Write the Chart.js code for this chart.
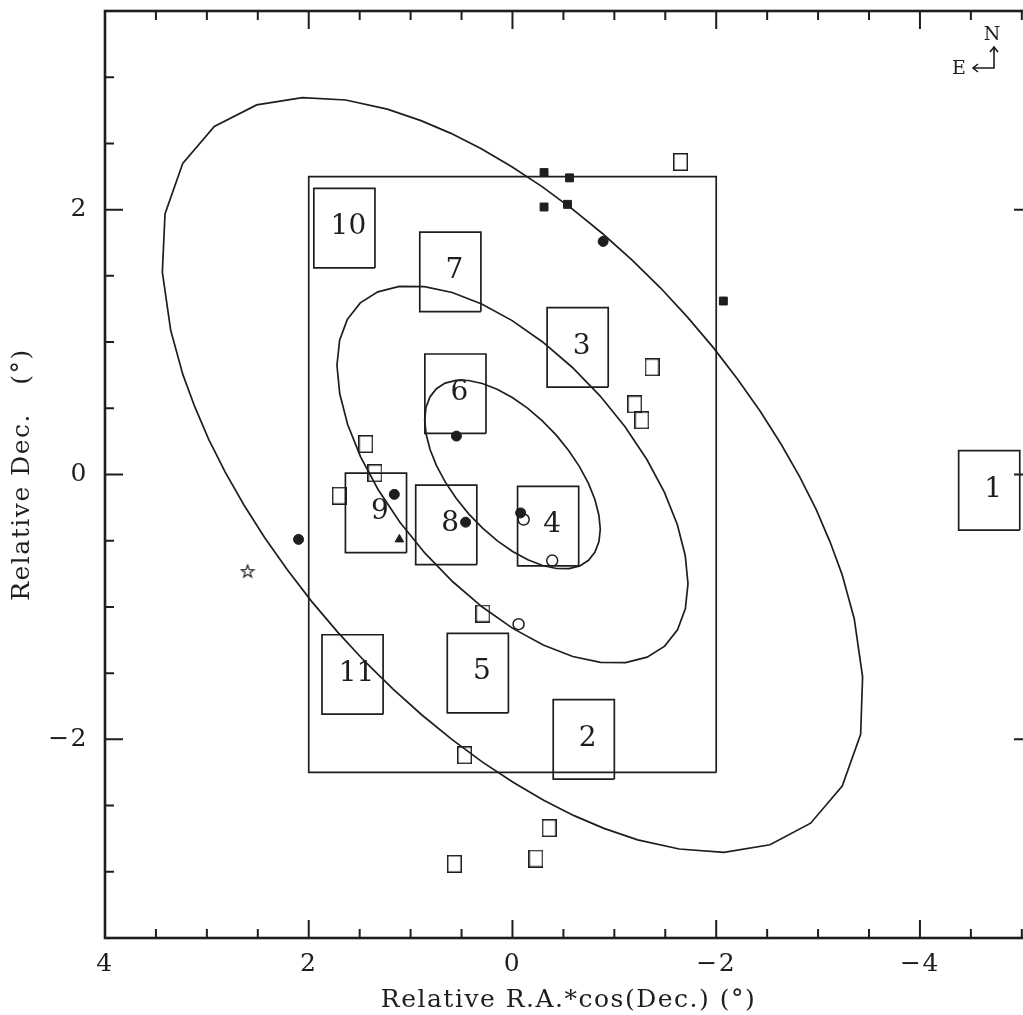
<!DOCTYPE html>
<html>
<head>
<meta charset="utf-8">
<title>Field layout</title>
<script src="https://cdn.jsdelivr.net/npm/chart.js@4.4.1/dist/chart.umd.min.js"></script>
<style>
  html, body { margin: 0; padding: 0; background: #fff; overflow: hidden; }
  #wrap { width: 1023px; height: 1015px; overflow: hidden; }
  canvas { display: block; }
</style>
</head>
<body>
<div id="wrap"><canvas id="fieldChart" width="1034" height="1015"></canvas></div>
<script>
// ---- data (degrees) ----
const xTickLabels = [4, 2, 0, -2, -4];
const yTickLabels = [-2, 0, 2];
const xMinorTicks = [3.5, 3, 2.5, 1.5, 1, 0.5, -0.5, -1, -1.5, -2.5, -3, -3.5, -4.5, -5];
const yMinorTicks = [-3, -2.5, -1.5, -1, -0.5, 0.5, 1, 1.5, 2.5, 3];

// survey field (big rectangle) corners
const fieldX = [-2, 2];
const fieldY = [-2.25, 2.25];

// numbered pointings
const boxLabels = ["1", "2", "3", "4", "5", "6", "7", "8", "9", "10", "11"];
const boxX = [-4.68, -0.70, -0.64, -0.35, 0.34, 0.56, 0.61, 0.65, 1.34, 1.65, 1.57];
const boxY = [-0.12, -2.00, 0.96, -0.39, -1.50, 0.61, 1.53, -0.38, -0.29, 1.86, -1.51];
const BOX_HALF = 0.3;

// markers
const filledSquareX = [-0.31, -0.56, -0.31, -0.54, -2.07];
const filledSquareY = [2.28, 2.24, 2.02, 2.04, 1.31];
const filledCircleX = [-0.89, 0.55, 1.16, 0.46, -0.08, 2.10];
const filledCircleY = [1.76, 0.29, -0.15, -0.36, -0.29, -0.49];
const openCircleX = [-0.11, -0.39, -0.06];
const openCircleY = [-0.34, -0.65, -1.13];
const openSquareX = [-1.65, -1.37, -1.20, -1.27, 1.44, 1.35, 1.70, 0.29, 0.47, -0.36, -0.23, 0.57];
const openSquareY = [2.36, 0.81, 0.53, 0.41, 0.23, 0.01, -0.16, -1.05, -2.12, -2.67, -2.90, -2.94];
const triangleX = [1.11];
const triangleY = [-0.49];
const starX = [2.60];
const starY = [-0.73];

// contours (vertices)
const outerContour = [
  [3.355, 1.089], [3.437, 1.528], [3.411, 1.968], [3.237, 2.349], [2.927, 2.628],
  [2.511, 2.791], [2.063, 2.846], [1.637, 2.828], [1.229, 2.759], [0.898, 2.672],
  [0.604, 2.576], [0.306, 2.460], [0.006, 2.324], [-0.294, 2.172], [-0.592, 2.002],
  [-0.886, 1.818], [-1.172, 1.620], [-1.452, 1.410], [-1.718, 1.188], [-1.972, 0.958],
  [-2.210, 0.720], [-2.432, 0.478], [-2.636, 0.230], [-2.820, -0.018], [-2.982, -0.266],
  [-3.120, -0.514], [-3.236, -0.756], [-3.355, -1.089], [-3.437, -1.528], [-3.418, -1.962],
  [-3.237, -2.352], [-2.927, -2.633], [-2.528, -2.796], [-2.076, -2.853], [-1.637, -2.828],
  [-1.229, -2.759], [-0.898, -2.672], [-0.604, -2.576], [-0.306, -2.460], [-0.006, -2.324],
  [0.294, -2.172], [0.592, -2.002], [0.886, -1.818], [1.172, -1.620], [1.452, -1.410],
  [1.718, -1.188], [1.972, -0.958], [2.210, -0.720], [2.432, -0.478], [2.636, -0.230],
  [2.820, 0.018], [2.982, 0.266], [3.120, 0.514], [3.236, 0.756], [3.355, 1.089]
];
const middleContour = [
  [1.620, 1.173], [1.494, 1.296], [1.322, 1.379], [1.110, 1.421], [0.864, 1.419],
  [0.592, 1.374], [0.302, 1.288], [0.003, 1.162], [-0.296, 1.001], [-0.586, 0.810],
  [-0.859, 0.594], [-1.105, 0.360], [-1.318, 0.115], [-1.491, -0.133], [-1.618, -0.378],
  [-1.696, -0.611], [-1.723, -0.825], [-1.697, -1.014], [-1.620, -1.173], [-1.494, -1.296],
  [-1.322, -1.379], [-1.110, -1.421], [-0.864, -1.419], [-0.592, -1.374], [-0.302, -1.288],
  [-0.003, -1.162], [0.296, -1.001], [0.586, -0.810], [0.859, -0.594], [1.105, -0.360],
  [1.318, -0.115], [1.491, 0.133], [1.618, 0.378], [1.696, 0.611], [1.723, 0.825],
  [1.697, 1.014], [1.620, 1.173]
];
const innerContour = [
  [0.810, 0.586], [0.747, 0.648], [0.661, 0.690], [0.555, 0.711], [0.432, 0.710],
  [0.296, 0.687], [0.151, 0.644], [0.002, 0.581], [-0.148, 0.501], [-0.293, 0.405],
  [-0.430, 0.297], [-0.553, 0.180], [-0.659, 0.058], [-0.746, -0.067], [-0.809, -0.189],
  [-0.848, -0.306], [-0.862, -0.413], [-0.849, -0.507], [-0.810, -0.586], [-0.747, -0.648],
  [-0.661, -0.690], [-0.555, -0.711], [-0.432, -0.710], [-0.296, -0.687], [-0.151, -0.644],
  [-0.002, -0.581], [0.148, -0.501], [0.293, -0.405], [0.430, -0.297], [0.553, -0.180],
  [0.659, -0.058], [0.746, 0.067], [0.809, 0.189], [0.848, 0.306], [0.862, 0.413],
  [0.849, 0.507], [0.810, 0.586]
];

// ---- styling ----
const INK = "#1e1e1e";
const SERIF = "'DejaVu Serif', 'Liberation Serif', serif";

const pairs = (xs, ys) => xs.map((v, i) => ({ x: v, y: ys[i] }));
const outline = pts => pts.map(p => ({ x: p[0], y: p[1] }));
function rectOutline(x0, x1, y0, y1){
  return [{x: x0, y: y0}, {x: x1, y: y0}, {x: x1, y: y1}, {x: x0, y: y1}, {x: x0, y: y0}];
}
const fmt = v => (v < 0 ? "\u2212" : "") + Math.abs(v);

function openBoxGlyph(w, h){
  const c = document.createElement("canvas");
  c.width = w; c.height = h;
  const g = c.getContext("2d");
  g.strokeStyle = INK;
  g.lineWidth = 1.5;
  g.strokeRect(0.75, 0.75, w - 1.5, h - 1.5);
  return c;
}
function starGlyph(){
  const c = document.createElement("canvas");
  c.width = 16; c.height = 16;
  const g = c.getContext("2d");
  g.translate(8, 8.5);
  g.beginPath();
  for(let i = 0; i < 10; i++){
    const r = i % 2 ? 2.7 : 6.6;
    const a = -Math.PI / 2 + i * Math.PI / 5;
    g.lineTo(r * Math.cos(a), r * Math.sin(a));
  }
  g.closePath();
  g.strokeStyle = INK;
  g.lineWidth = 1.2;
  g.stroke();
  return c;
}

function lineSet(points){
  return {
    data: points, showLine: true, pointRadius: 0, fill: false, tension: 0,
    borderColor: INK, borderWidth: 1.7, order: 2
  };
}

const datasets = [
  { data: pairs(filledSquareX, filledSquareY), pointStyle: "rect", pointRadius: 5.6,
    backgroundColor: INK, borderColor: INK, borderWidth: 1, order: 0 },
  { data: pairs(filledCircleX, filledCircleY), pointStyle: "circle", pointRadius: 5,
    backgroundColor: INK, borderColor: INK, borderWidth: 1, order: 0 },
  { data: pairs(triangleX, triangleY), pointStyle: "triangle", pointRadius: 5,
    backgroundColor: INK, borderColor: INK, borderWidth: 1, order: 0 },
  { data: pairs(openCircleX, openCircleY), pointStyle: "circle", pointRadius: 5.5,
    backgroundColor: "rgba(0,0,0,0)", borderColor: INK, borderWidth: 1.5, order: 1 },
  { data: pairs(openSquareX, openSquareY), pointStyle: openBoxGlyph(15, 18), pointRadius: 8, order: 1 },
  { data: pairs(starX, starY), pointStyle: starGlyph(), pointRadius: 8, order: 1 },
  lineSet(outline(outerContour)),
  lineSet(outline(middleContour)),
  lineSet(outline(innerContour)),
  lineSet(rectOutline(fieldX[0], fieldX[1], fieldY[0], fieldY[1]))
];
boxX.forEach((cx, i) => {
  const cy = boxY[i];
  datasets.push(lineSet(rectOutline(cx - BOX_HALF, cx + BOX_HALF, cy - BOX_HALF, cy + BOX_HALF)));
});

// frame, inward ticks on all sides, box numbers and the compass
const frameTicks = {
  id: "frameTicks",
  beforeDraw(chart){ chart.ctx.letterSpacing = "1.5px"; },
  afterDatasetsDraw(chart){
    const {ctx, scales: {x, y}} = chart;
    ctx.save();
    ctx.letterSpacing = "0px";
    ctx.fillStyle = INK;
    ctx.font = "28px " + SERIF;
    ctx.textAlign = "center";
    ctx.textBaseline = "middle";
    boxLabels.forEach((t, i) => {
      ctx.fillText(t, x.getPixelForValue(boxX[i]) + 4, y.getPixelForValue(boxY[i]) - 1);
    });
    ctx.restore();
  },
  afterDraw(chart){
    const {ctx, chartArea: a, scales: {x, y}} = chart;
    ctx.save();
    ctx.letterSpacing = "0px";
    ctx.strokeStyle = INK;
    ctx.lineWidth = 2;
    ctx.beginPath();
    const xt = (v, len) => {
      const px = x.getPixelForValue(v);
      ctx.moveTo(px, a.bottom); ctx.lineTo(px, a.bottom - len);
      ctx.moveTo(px, a.top); ctx.lineTo(px, a.top + len);
    };
    const yt = (v, len) => {
      const py = y.getPixelForValue(v);
      ctx.moveTo(a.left, py); ctx.lineTo(a.left + len, py);
      ctx.moveTo(a.right, py); ctx.lineTo(a.right - len, py);
    };
    xTickLabels.forEach(v => xt(v, 18));
    xMinorTicks.forEach(v => xt(v, 9));
    yTickLabels.forEach(v => yt(v, 18));
    yMinorTicks.forEach(v => yt(v, 9));
    ctx.stroke();
    ctx.lineWidth = 2.6;
    ctx.strokeRect(a.left, a.top, a.right - a.left, a.bottom - a.top);

    // compass
    const cx = a.right - 38, cy = a.top + 57;
    ctx.lineWidth = 1.6;
    ctx.beginPath();
    ctx.moveTo(cx - 21, cy); ctx.lineTo(cx, cy); ctx.lineTo(cx, cy - 21);
    ctx.moveTo(cx - 4, cy - 16); ctx.lineTo(cx, cy - 21); ctx.lineTo(cx + 4, cy - 16);
    ctx.moveTo(cx - 16, cy - 4); ctx.lineTo(cx - 21, cy); ctx.lineTo(cx - 16, cy + 4);
    ctx.stroke();
    ctx.fillStyle = INK;
    ctx.font = "19px " + SERIF;
    ctx.textAlign = "center";
    ctx.textBaseline = "middle";
    ctx.fillText("N", cx - 2, cy - 33);
    ctx.fillText("E", cx - 35, cy + 1);
    ctx.restore();
  }
};

new Chart(document.getElementById("fieldChart"), {
  type: "scatter",
  data: { datasets: datasets },
  options: {
    responsive: false,
    animation: false,
    layout: { autoPadding: false, padding: { top: 11, right: 2, left: 0, bottom: 0 } },
    plugins: { legend: { display: false }, tooltip: { enabled: false } },
    scales: {
      x: {
        type: "linear", min: -5.1, max: 4, reverse: true,
        grid: { display: false, drawTicks: false },
        border: { display: false },
        afterBuildTicks: s => { s.ticks = xTickLabels.map(v => ({ value: v })); },
        afterFit: s => { s.height = 77; s.paddingLeft = 0; s.paddingRight = 0; },
        ticks: { autoSkip: false, maxRotation: 0, padding: 11, color: INK,
                 font: { family: SERIF, size: 25 }, callback: fmt },
        title: { display: true, text: "Relative R.A.*cos(Dec.) (\u00b0)", color: INK,
                 font: { family: SERIF, size: 25, lineHeight: 1 }, padding: { top: 0, bottom: 2 } }
      },
      y: {
        type: "linear", min: -3.5, max: 3.5,
        grid: { display: false, drawTicks: false },
        border: { display: false },
        afterBuildTicks: s => { s.ticks = yTickLabels.map(v => ({ value: v })); },
        afterFit: s => { s.width = 105; s.paddingTop = 0; s.paddingBottom = 0; },
        ticks: { autoSkip: false, padding: 17, color: INK,
                 font: { family: SERIF, size: 25 }, callback: fmt },
        title: { display: true, text: "Relative Dec.   (\u00b0)", color: INK,
                 font: { family: SERIF, size: 25, lineHeight: 1 }, padding: { top: 10, bottom: 0 } }
      }
    }
  },
  plugins: [frameTicks]
});
</script>
</body>
</html>
